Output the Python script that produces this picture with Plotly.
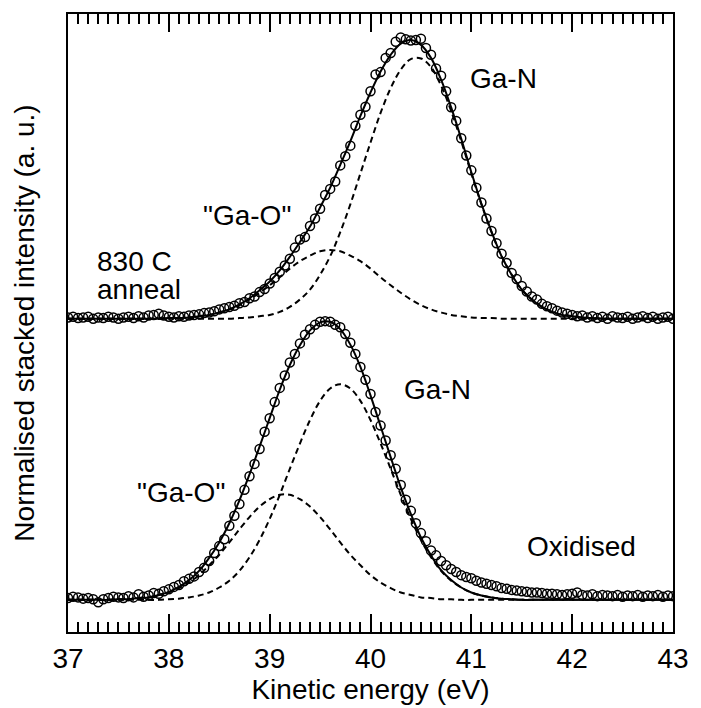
import plotly.graph_objects as go

# ---------------- data ----------------
# kinetic-energy grid of the measured points (eV)
energy_pts = [
    37.00, 37.05, 37.10, 37.15, 37.20, 37.25, 37.30, 37.35, 37.40, 37.45,
    37.50, 37.55, 37.60, 37.65, 37.70, 37.75, 37.80, 37.85, 37.90, 37.95,
    38.00, 38.05, 38.10, 38.15, 38.20, 38.25, 38.30, 38.35, 38.40, 38.45,
    38.50, 38.55, 38.60, 38.65, 38.70, 38.75, 38.80, 38.85, 38.90, 38.95,
    39.00, 39.05, 39.10, 39.15, 39.20, 39.25, 39.30, 39.35, 39.40, 39.45,
    39.50, 39.55, 39.60, 39.65, 39.70, 39.75, 39.80, 39.85, 39.90, 39.95,
    40.00, 40.05, 40.10, 40.15, 40.20, 40.25, 40.30, 40.35, 40.40, 40.45,
    40.50, 40.55, 40.60, 40.65, 40.70, 40.75, 40.80, 40.85, 40.90, 40.95,
    41.00, 41.05, 41.10, 41.15, 41.20, 41.25, 41.30, 41.35, 41.40, 41.45,
    41.50, 41.55, 41.60, 41.65, 41.70, 41.75, 41.80, 41.85, 41.90, 41.95,
    42.00, 42.05, 42.10, 42.15, 42.20, 42.25, 42.30, 42.35, 42.40, 42.45,
    42.50, 42.55, 42.60, 42.65, 42.70, 42.75, 42.80, 42.85, 42.90, 42.95,
    43.00,
]

# 830 C anneal spectrum (intensity above its baseline)
anneal_data = [
    0.02, 0.03, 0.01, 0.02, 0.03, 0.00, 0.02, 0.01, 0.03, 0.02,
    0.00, 0.02, 0.03, 0.01, 0.04, 0.02, 0.05, 0.06, 0.08, 0.05,
    0.03, 0.02, 0.04, 0.03, 0.05, 0.06, 0.07, 0.09, 0.10, 0.12,
    0.15, 0.17, 0.19, 0.21, 0.25, 0.27, 0.33, 0.36, 0.43, 0.48,
    0.57, 0.66, 0.76, 0.86, 0.97, 1.15, 1.28, 1.32, 1.50, 1.62,
    1.78, 2.00, 2.10, 2.22, 2.48, 2.63, 2.80, 3.12, 3.30, 3.43,
    3.68, 3.95, 3.99, 4.22, 4.30, 4.48, 4.55, 4.52, 4.50, 4.51,
    4.53, 4.38, 4.27, 4.05, 3.93, 3.68, 3.42, 3.20, 2.92, 2.64,
    2.40, 2.12, 1.88, 1.62, 1.42, 1.22, 1.05, 0.90, 0.74, 0.64,
    0.53, 0.44, 0.36, 0.31, 0.24, 0.20, 0.17, 0.13, 0.10, 0.08,
    0.06, 0.04, 0.05, 0.02, 0.04, 0.01, 0.03, 0.00, 0.04, 0.02,
    0.01, 0.03, 0.00, 0.02, 0.04, 0.01, 0.03, 0.00, 0.02, 0.03,
    0.00,
]

# oxidised spectrum (intensity above its baseline)
oxidised_data = [
    0.03, 0.05, 0.04, 0.02, 0.03, 0.01, -0.04, 0.01, 0.03, 0.05,
    0.04, 0.03, 0.06, 0.04, 0.09, 0.05, 0.07, 0.11, 0.10, 0.14,
    0.17, 0.21, 0.24, 0.30, 0.34, 0.38, 0.45, 0.52, 0.63, 0.76,
    0.87, 0.98, 1.20, 1.36, 1.55, 1.78, 2.00, 2.20, 2.44, 2.72,
    2.94, 3.20, 3.43, 3.63, 3.84, 3.98, 4.15, 4.29, 4.38, 4.45,
    4.50, 4.51, 4.50, 4.45, 4.41, 4.30, 4.16, 3.98, 3.77, 3.56,
    3.33, 3.04, 2.82, 2.58, 2.34, 2.12, 1.86, 1.62, 1.44, 1.24,
    1.08, 0.95, 0.80, 0.72, 0.63, 0.56, 0.50, 0.45, 0.40, 0.37,
    0.35, 0.31, 0.28, 0.26, 0.24, 0.22, 0.19, 0.18, 0.16, 0.15,
    0.14, 0.13, 0.12, 0.12, 0.11, 0.10, 0.10, 0.09, 0.08, 0.09,
    0.10, 0.12, 0.08, 0.07, 0.09, 0.06, 0.08, 0.07, 0.06, 0.08,
    0.05, 0.07, 0.06, 0.08, 0.05, 0.07, 0.06, 0.08, 0.05, 0.07,
    0.06,
]

# energy grid of the fitted curves (eV)
energy_fit = [
    37.0, 37.1, 37.2, 37.3, 37.4, 37.5, 37.6, 37.7, 37.8, 37.9,
    38.0, 38.1, 38.2, 38.3, 38.4, 38.5, 38.6, 38.7, 38.8, 38.9,
    39.0, 39.1, 39.2, 39.3, 39.4, 39.5, 39.6, 39.7, 39.8, 39.9,
    40.0, 40.1, 40.2, 40.3, 40.4, 40.5, 40.6, 40.7, 40.8, 40.9,
    41.0, 41.1, 41.2, 41.3, 41.4, 41.5, 41.6, 41.7, 41.8, 41.9,
    42.0, 42.1, 42.2, 42.3, 42.4, 42.5, 42.6, 42.7, 42.8, 42.9,
    43.0,
]

anneal_fit_total = [
    0, 0, 0, 0, 0, 0, 0, 0, 0, 0.00,
    0.01, 0.01, 0.02, 0.04, 0.06, 0.10, 0.15, 0.23, 0.33, 0.46,
    0.60, 0.78, 1.00, 1.24, 1.49, 1.80, 2.12, 2.49, 2.87, 3.28,
    3.66, 4.00, 4.27, 4.45, 4.51, 4.43, 4.22, 3.87, 3.42, 2.91,
    2.37, 1.86, 1.41, 1.01, 0.71, 0.47, 0.31, 0.19, 0.11, 0.06,
    0.04, 0.02, 0.01, 0, 0, 0, 0, 0, 0, 0,
    0,
]
anneal_fit_gan = [
    0, 0, 0, 0, 0, 0, 0, 0, 0, 0,
    0, 0, 0, 0, 0, 0, 0, 0.01, 0.02, 0.04,
    0.06, 0.11, 0.19, 0.31, 0.47, 0.71, 1.01, 1.40, 1.85, 2.35,
    2.85, 3.33, 3.73, 4.03, 4.20, 4.21, 4.07, 3.77, 3.36, 2.87,
    2.35, 1.85, 1.40, 1.01, 0.71, 0.47, 0.31, 0.19, 0.11, 0.06,
    0.04, 0.02, 0.01, 0, 0, 0, 0, 0, 0, 0,
    0,
]
anneal_fit_gao = [
    0, 0, 0, 0, 0, 0, 0, 0, 0, 0.00,
    0.01, 0.01, 0.02, 0.04, 0.06, 0.10, 0.15, 0.22, 0.31, 0.42,
    0.54, 0.67, 0.81, 0.93, 1.02, 1.09, 1.11, 1.09, 1.02, 0.93,
    0.81, 0.67, 0.54, 0.42, 0.31, 0.22, 0.15, 0.10, 0.06, 0.04,
    0.02, 0.01, 0.01, 0.00, 0, 0, 0, 0, 0, 0,
    0, 0, 0, 0, 0, 0, 0, 0, 0, 0,
    0,
]

oxidised_fit_total = [
    0, 0, 0, 0, 0, 0.01, 0.01, 0.03, 0.04, 0.08,
    0.13, 0.21, 0.32, 0.47, 0.68, 0.93, 1.24, 1.61, 2.03, 2.48,
    2.94, 3.40, 3.80, 4.12, 4.36, 4.49, 4.50, 4.38, 4.13, 3.77,
    3.31, 2.81, 2.31, 1.82, 1.39, 1.01, 0.72, 0.48, 0.32, 0.20,
    0.12, 0.07, 0.04, 0.02, 0.01, 0, 0, 0, 0, 0,
    0, 0, 0, 0, 0, 0, 0, 0, 0, 0,
    0,
]
oxidised_fit_gan = [
    0, 0, 0, 0, 0, 0, 0, 0, 0, 0,
    0.01, 0.02, 0.04, 0.07, 0.12, 0.20, 0.31, 0.47, 0.69, 0.97,
    1.31, 1.70, 2.12, 2.53, 2.91, 3.22, 3.42, 3.49, 3.42, 3.22,
    2.91, 2.53, 2.12, 1.70, 1.31, 0.97, 0.69, 0.47, 0.31, 0.20,
    0.12, 0.07, 0.04, 0.02, 0.01, 0, 0, 0, 0, 0,
    0, 0, 0, 0, 0, 0, 0, 0, 0, 0,
    0,
]
oxidised_fit_gao = [
    0, 0, 0, 0, 0, 0.01, 0.01, 0.03, 0.04, 0.08,
    0.12, 0.19, 0.28, 0.40, 0.56, 0.73, 0.93, 1.14, 1.34, 1.51,
    1.63, 1.70, 1.70, 1.63, 1.51, 1.34, 1.14, 0.93, 0.73, 0.56,
    0.40, 0.28, 0.19, 0.12, 0.08, 0.04, 0.03, 0.01, 0.01, 0,
    0, 0, 0, 0, 0, 0, 0, 0, 0, 0,
    0, 0, 0, 0, 0, 0, 0, 0, 0, 0,
    0,
]

# vertical stacking offsets (baselines)
anneal_offset = 5.07
oxidised_offset = 0.52

x_ticks = [37, 38, 39, 40, 41, 42, 43]

# ---------------- figure ----------------
FONT = "Arial, Liberation Sans, sans-serif"
fig = go.Figure()


def add_spectrum(data, total, gan, gao, offset):
    for comp in (gan, gao):
        fig.add_trace(go.Scatter(
            x=energy_fit, y=[v + offset for v in comp], mode="lines",
            line=dict(color="black", width=2, dash="6px,4px", shape="spline"),
            showlegend=False, hoverinfo="skip"))
    fig.add_trace(go.Scatter(
        x=energy_fit, y=[v + offset for v in total], mode="lines",
        line=dict(color="black", width=2, shape="spline"),
        showlegend=False, hoverinfo="skip"))
    fig.add_trace(go.Scatter(
        x=energy_pts, y=[v + offset for v in data], mode="markers",
        marker=dict(symbol="circle-open", size=9, color="black",
                    line=dict(width=1.5, color="black")),
        showlegend=False))


add_spectrum(anneal_data, anneal_fit_total, anneal_fit_gan, anneal_fit_gao, anneal_offset)
add_spectrum(oxidised_data, oxidised_fit_total, oxidised_fit_gan, oxidised_fit_gao, oxidised_offset)

ANN_FONT = dict(family=FONT, size=28, color="black")
labels = [
    (41.32, 8.95, "Ga-N"),
    (38.78, 6.74, "\"Ga-O\""),
    (40.66, 3.93, "Ga-N"),
    (38.12, 2.25, "\"Ga-O\""),
    (42.09, 1.39, "Oxidised"),
]
for lx, ly, txt in labels:
    fig.add_annotation(x=lx, y=ly, text=txt, showarrow=False, font=ANN_FONT,
                       xanchor="center", yanchor="middle")
fig.add_annotation(x=37.27, y=6.00, text="830 C", showarrow=False, xanchor="left",
                   yanchor="middle", font=ANN_FONT)
fig.add_annotation(x=37.27, y=5.55, text="anneal", showarrow=False, xanchor="left",
                   yanchor="middle", font=ANN_FONT)

fig.update_layout(
    width=701, height=708,
    margin=dict(l=68, r=19, t=13, b=76),
    paper_bgcolor="white", plot_bgcolor="white",
    font=dict(family=FONT, color="black"),
)
fig.update_xaxes(
    range=[37, 43], tickvals=x_ticks, ticktext=[str(v) for v in x_ticks],
    ticks="inside", ticklen=18, tickwidth=2, tickcolor="black",
    minor=dict(dtick=0.1, ticks="inside", ticklen=10, tickwidth=1.5, tickcolor="black"),
    showline=True, linecolor="black", linewidth=2, mirror="ticks",
    showgrid=False, zeroline=False,
    tickfont=dict(family=FONT, size=28, color="black"),
    title=dict(text="Kinetic energy (eV)", font=dict(family=FONT, size=28, color="black"),
               standoff=2),
)
fig.update_yaxes(
    range=[0, 10], showticklabels=False, ticks="",
    showline=True, linecolor="black", linewidth=2, mirror=True,
    showgrid=False, zeroline=False,
    title=dict(text="Normalised stacked intensity (a. u.)",
               font=dict(family=FONT, size=28, color="black"), standoff=23),
)

fig.write_html("out.html")
